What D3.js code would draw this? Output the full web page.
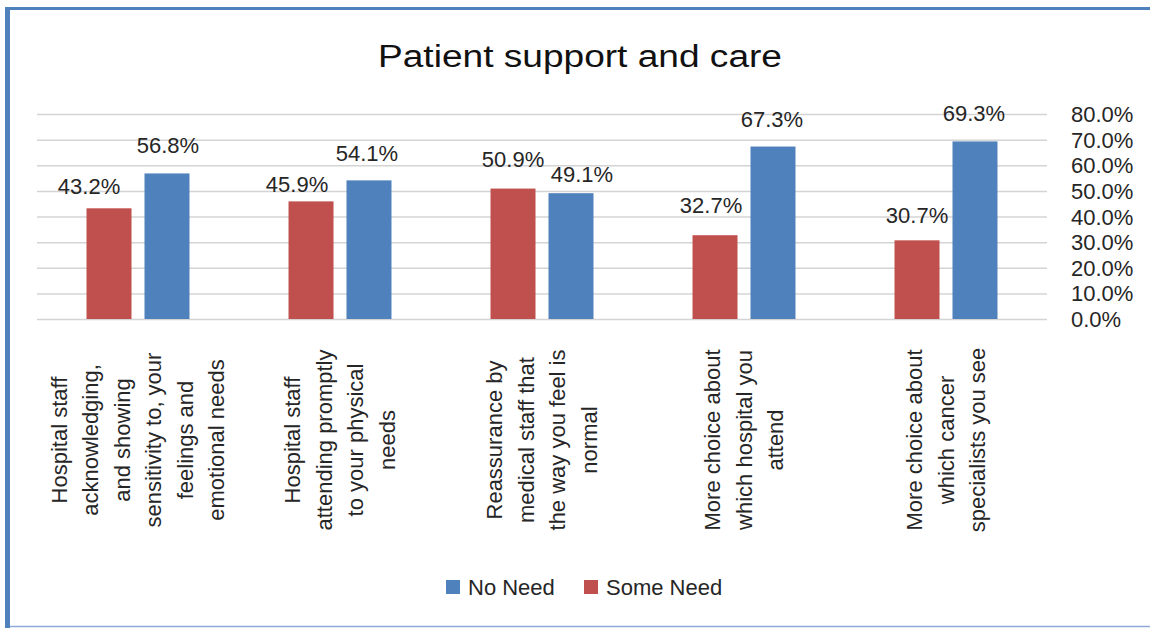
<!DOCTYPE html>
<html>
<head>
<meta charset="utf-8">
<script src="https://cdn.jsdelivr.net/npm/d3@7/dist/d3.min.js"></script>
<style>
  html, body { margin: 0; padding: 0; background: #fff; }
  svg { display: block; }
  svg text { font-family: "Liberation Sans", Arial, sans-serif; }
</style>
</head>
<body>
<svg id="chart" width="1150" height="628"></svg>
<script>
// Survey responses: share of patients reporting each level of need (%)
const categories = [
  "Hospital staff acknowledging, and showing sensitivity to, your feelings and emotional needs",
  "Hospital staff attending promptly to your physical needs",
  "Reassurance by medical staff that the way you feel is normal",
  "More choice about which hospital you attend",
  "More choice about which cancer specialists you see"
];
// Category labels broken into lines for the rotated axis text
const categoryLines = [
  ["Hospital staff", "acknowledging,", "and showing", "sensitivity to, your", "feelings and", "emotional needs"],
  ["Hospital staff", "attending promptly", "to your physical", "needs"],
  ["Reassurance by", "medical staff that", "the way you feel is", "normal"],
  ["More choice about", "which hospital you", "attend"],
  ["More choice about", "which cancer", "specialists you see"]
];
const seriesNames = ["Some Need", "No Need"];
const legendOrder = ["No Need", "Some Need"];
const someNeed = [43.2, 45.9, 50.9, 32.7, 30.7];
const noNeed = [56.8, 54.1, 49.1, 67.3, 69.3];
const yTicks = [0, 10, 20, 30, 40, 50, 60, 70, 80];

// Hand-placed data label nudges [dx, dy] per series, per category
const labelNudge = {
  "Some Need": [[-20, 5], [-14, 10], [0, -2], [-4, -3], [0, 2]],
  "No Need":   [[1, -1], [-2, 0], [11, 8], [-1, 0], [-1, -1]]
};

const colors = { "No Need": "#4f81bd", "Some Need": "#c0504d" };
const textColor = "#262626";
const fontFamily = "'Liberation Sans', Arial, sans-serif";

const svg = d3.select("#chart");
const W = 1150, H = 628;

// frame around the chart
svg.append("rect").attr("x", 0).attr("y", 0).attr("width", W).attr("height", H).attr("fill", "#fff");
svg.append("line").attr("x1", 7.5).attr("x2", 7.5).attr("y1", 7).attr("y2", H)
  .attr("stroke", "#4f81bd").attr("stroke-width", 5);
svg.append("line").attr("x1", 5).attr("x2", W).attr("y1", 8.5).attr("y2", 8.5)
  .attr("stroke", "#4f81bd").attr("stroke-width", 3);
svg.append("line").attr("x1", 10).attr("x2", W).attr("y1", 626.5).attr("y2", 626.5)
  .attr("stroke", "#8eaadb").attr("stroke-width", 1.5);

// title
svg.append("text")
  .attr("x", 580).attr("y", 67)
  .attr("text-anchor", "middle")
  .attr("font-size", 31)
  .attr("fill", "#111")
  .attr("textLength", 404)
  .attr("lengthAdjust", "spacingAndGlyphs")
  .text("Patient support and care");

const plot = { left: 37, right: 1047, top: 114, bottom: 319 };

const x0 = d3.scaleBand().domain(categories).range([plot.left, plot.right]).padding(0);
const x1 = d3.scaleBand().domain(seriesNames).range([0, x0.bandwidth()])
  .paddingInner(0.224).paddingOuter(0.854);
const y = d3.scaleLinear().domain([0, 80]).range([plot.bottom, plot.top]);

// horizontal gridlines
const grid = svg.append("g")
  .attr("transform", `translate(${plot.left},0)`)
  .call(d3.axisRight(y).tickValues(yTicks).tickSize(plot.right - plot.left).tickFormat(""));
grid.select(".domain").remove();
grid.selectAll(".tick line").attr("stroke", "#d4d4d4").attr("stroke-width", 1.5);

// right-hand value axis labels
const yAxis = svg.append("g")
  .attr("transform", `translate(1071,0)`)
  .call(d3.axisRight(y).tickValues(yTicks).tickSize(0).tickPadding(0)
    .tickFormat(d => d.toFixed(1) + "%"));
yAxis.attr("font-family", fontFamily).attr("font-size", 22);
yAxis.select(".domain").remove();
yAxis.selectAll(".tick text")
  .attr("fill", textColor)
  .attr("dy", null)
  .attr("dominant-baseline", "central");

// bars
const rows = categories.map((c, i) => ({
  category: c,
  values: [
    { series: "Some Need", value: someNeed[i], idx: i },
    { series: "No Need", value: noNeed[i], idx: i }
  ]
}));

const groups = svg.append("g").selectAll("g.group")
  .data(rows).join("g")
  .attr("class", "group")
  .attr("transform", d => `translate(${x0(d.category)},0)`);

groups.selectAll("rect")
  .data(d => d.values).join("rect")
  .attr("x", d => x1(d.series))
  .attr("width", x1.bandwidth())
  .attr("y", d => y(d.value))
  .attr("height", d => y(0) - y(d.value))
  .attr("fill", d => colors[d.series]);

// value labels
groups.selectAll("text.val")
  .data(d => d.values).join("text")
  .attr("class", "val")
  .attr("x", d => x1(d.series) + x1.bandwidth() / 2 + labelNudge[d.series][d.idx][0])
  .attr("y", d => y(d.value) - 27 + labelNudge[d.series][d.idx][1])
  .attr("text-anchor", "middle")
  .attr("dominant-baseline", "central")
  .attr("font-size", 22)
  .attr("fill", textColor)
  .text(d => d.value.toFixed(1) + "%");

// category axis with rotated, wrapped labels
const xAxis = svg.append("g")
  .attr("transform", `translate(0,${plot.bottom})`)
  .call(d3.axisBottom(x0).tickSize(0).tickFormat(""));
xAxis.attr("font-family", fontFamily).attr("font-size", 22);
xAxis.select(".domain").remove();
const lineGap = 31.5;
xAxis.selectAll(".tick").each(function(d, i) {
  const lines = categoryLines[i];
  const n = lines.length;
  d3.select(this).selectAll("text.cat")
    .data(lines).join("text")
    .attr("class", "cat")
    .attr("transform", (t, j) => `translate(${(j - (n - 1) / 2) * lineGap},121) rotate(-90)`)
    .attr("text-anchor", "middle")
    .attr("dominant-baseline", "central")
    .attr("fill", textColor)
    .text(t => t);
});

// legend
const legend = svg.append("g").attr("transform", "translate(446,587)");
const legendX = { "No Need": 0, "Some Need": 138 };
const li = legend.selectAll("g").data(legendOrder).join("g")
  .attr("transform", d => `translate(${legendX[d]},0)`);
li.append("rect").attr("x", 0).attr("y", -7).attr("width", 14).attr("height", 14)
  .attr("fill", d => colors[d]);
li.append("text").attr("x", 22).attr("y", 0)
  .attr("dominant-baseline", "central")
  .attr("font-size", 22)
  .attr("fill", textColor)
  .text(d => d);
</script>
</body>
</html>
